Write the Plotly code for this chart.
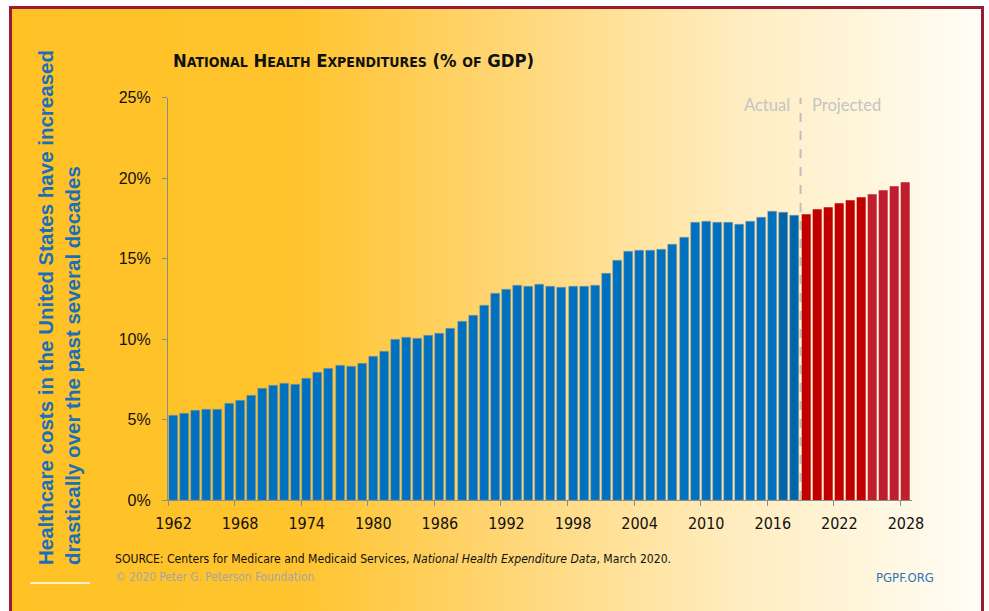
import base64
import plotly.graph_objects as go

# ---------------- data ----------------
years = list(range(1962, 2029))
nhe_pct_gdp = [
    5.24, 5.40, 5.59, 5.63, 5.65, 5.98, 6.21, 6.48, 6.94, 7.10,
    7.25, 7.20, 7.54, 7.91, 8.16, 8.34, 8.30, 8.45, 8.92, 9.21,
    10.00, 10.12, 10.02, 10.20, 10.37, 10.64, 11.08, 11.45, 12.09, 12.80,
    13.08, 13.35, 13.25, 13.37, 13.29, 13.23, 13.25, 13.25, 13.33, 14.06,
    14.89, 15.42, 15.51, 15.51, 15.59, 15.86, 16.29, 17.24, 17.29, 17.24,
    17.22, 17.10, 17.27, 17.53, 17.89, 17.83, 17.70,
    17.76, 18.03, 18.16, 18.40, 18.60, 18.78, 18.97, 19.20, 19.46, 19.69,
]
last_actual_year = 2018
tick_years = [1962, 1968, 1974, 1980, 1986, 1992, 1998, 2004, 2010, 2016, 2022, 2028]
y_ticks = [0, 5, 10, 15, 20, 25]
y_tick_labels = [f"{v}%" for v in y_ticks]

title_text = ("<b>N<span style='font-size:14px'>ATIONAL</span> "
              "H<span style='font-size:14px'>EALTH</span> "
              "E<span style='font-size:14px'>XPENDITURES</span> "
              "(% <span style='font-size:14px'>OF</span> GDP)</b>")
side_text = ("<b>Healthcare costs in the United States have increased<br>"
             "drastically over the past several decades</b>")
source_text = ("SOURCE: Centers for Medicare and Medicaid Services, "
               "<i>National Health Expenditure Data</i>, March 2020.")
copyright_text = "© 2020 Peter G. Peterson Foundation"
site_text = "PGPF.ORG"

# ---------------- styling ----------------
W, H = 989, 611
BLUE = "#0070C0"
BLUE_DARK = "#0066AB"
RED = "#C00000"
RED2 = "#BE1E2D"
NARROW = "DejaVu Sans Condensed, Liberation Sans Narrow, sans-serif"


def bar_color(yr):
    if yr <= last_actual_year:
        return BLUE_DARK if yr >= 2017 else BLUE
    return RED if yr <= 2024 else RED2


colors = [bar_color(y) for y in years]
line_cols = ["rgba(170,165,140,0.85)" if y <= last_actual_year else "rgba(0,0,0,0)" for y in years]


def px(x):
    return x / W


def py(y):
    return 1 - y / H


fig = go.Figure()
fig.add_trace(go.Bar(
    x=years, y=nhe_pct_gdp, width=0.81,
    marker=dict(color=colors, line=dict(color=line_cols, width=0.6)),
    hoverinfo="skip", showlegend=False,
))
# invisible trace to activate secondary x axis (boundary ticks)
fig.add_trace(go.Scatter(x=[years[0]], y=[0], xaxis="x2", mode="markers",
                         marker=dict(opacity=0), hoverinfo="skip", showlegend=False))

x_range = [years[0] - 0.5, years[-1] + 0.5]
x_dom = [px(168), px(911.5)]
y_dom = [py(500), py(97.5)]

fig.update_layout(
    width=W, height=H,
    margin=dict(l=0, r=0, t=0, b=0, pad=0, autoexpand=False),
    paper_bgcolor="white", plot_bgcolor="rgba(0,0,0,0)",
    bargap=0,
    xaxis=dict(domain=x_dom, range=x_range, tickvals=tick_years,
               ticks="outside", ticklen=5, tickcolor="rgba(0,0,0,0)",
               showline=True, linecolor="#8C8C8C", linewidth=1.2,
               showgrid=False, zeroline=False, automargin=False,
               tickfont=dict(family=NARROW, size=16, color="#111111"),
               ticklabelstandoff=4),
    xaxis2=dict(overlaying="x", anchor="y", side="bottom", range=x_range,
                tickvals=[t - 0.5 for t in tick_years], ticks="outside",
                ticklen=5, tickcolor="#8C8C8C", tickwidth=1.2, automargin=False,
                showticklabels=False, showgrid=False, zeroline=False, showline=False),
    yaxis=dict(domain=y_dom, range=[0, 25], tickvals=y_ticks, ticktext=y_tick_labels,
               ticks="outside", ticklen=5, tickcolor="#8C8C8C", tickwidth=1.2,
               showline=True, linecolor="#8C8C8C", linewidth=1.2,
               showgrid=False, zeroline=False, automargin=False,
               tickfont=dict(family="Liberation Sans, Arial, sans-serif", size=16, color="#111111"),
               ticklabelstandoff=8),
)

# background gradient
svg = ('<svg xmlns="http://www.w3.org/2000/svg" width="200" height="100" preserveAspectRatio="none">'
       '<defs><linearGradient id="g" x1="0" x2="1" y1="0" y2="0">'
       '<stop offset="0" stop-color="#FFC124"/>'
       '<stop offset="0.30" stop-color="#FFC42F"/>'
       '<stop offset="0.50" stop-color="#FFD572"/>'
       '<stop offset="0.75" stop-color="#FFEDC0"/>'
       '<stop offset="1" stop-color="#FFFDF6"/>'
       '</linearGradient></defs><rect width="200" height="100" fill="url(#g)"/></svg>')
src = "data:image/svg+xml;base64," + base64.b64encode(svg.encode()).decode()
fig.add_layout_image(dict(source=src, xref="paper", yref="paper",
                          x=px(12), y=py(9), sizex=px(981) - px(12), sizey=py(9),
                          xanchor="left", yanchor="top", sizing="stretch", layer="below"))

# frame (open at the bottom edge, like the reference)
frame = dict(color="#9B1C31", width=3)
fig.add_shape(type="line", xref="paper", yref="paper",
              x0=px(10.5), x1=px(10.5), y0=0, y1=py(7.5), line=frame)
fig.add_shape(type="line", xref="paper", yref="paper",
              x0=px(982.5), x1=px(982.5), y0=0, y1=py(7.5), line=frame)
fig.add_shape(type="line", xref="paper", yref="paper",
              x0=px(9), x1=px(984), y0=py(7.5), y1=py(7.5), line=frame)
# short white rule under side text
fig.add_shape(type="line", xref="paper", yref="paper",
              x0=px(30), x1=px(90), y0=py(583), y1=py(583),
              line=dict(color="white", width=1.5))

# actual / projected divider
div_x = last_actual_year + 0.5
fig.add_shape(type="line", xref="x", yref="y", x0=div_x, x1=div_x, y0=0, y1=25,
              line=dict(color="#BDBDBD", width=2, dash="dash"), layer="below")
fig.add_annotation(x=div_x, y=25, xref="x", yref="y", text="Actual", showarrow=False,
                   xanchor="right", yanchor="middle", xshift=-9, yshift=-8,
                   font=dict(family="Lato, sans-serif", size=16.5, color="#C4C4C4"))
fig.add_annotation(x=div_x, y=25, xref="x", yref="y", text="Projected", showarrow=False,
                   xanchor="left", yanchor="middle", xshift=9, yshift=-8,
                   font=dict(family="Lato, sans-serif", size=16.5, color="#C4C4C4"))

# title
fig.add_annotation(x=px(171), y=py(61), xref="paper", yref="paper", text=title_text,
                   showarrow=False, xanchor="left", yanchor="middle",
                   font=dict(family=NARROW, size=18.3, color="#111111"))
# side text
fig.add_annotation(x=px(59), y=py(308), xref="paper", yref="paper", text=side_text,
                   showarrow=False, textangle=-90, align="left",
                   xanchor="center", yanchor="middle",
                   font=dict(family="Liberation Sans, Arial, sans-serif", size=20.5, color="#1A6FB8"))
# footer
fig.add_annotation(x=px(113), y=py(559), xref="paper", yref="paper", text=source_text,
                   showarrow=False, xanchor="left", yanchor="middle",
                   font=dict(family=NARROW, size=12.1, color="#111111"))
fig.add_annotation(x=px(113), y=py(577), xref="paper", yref="paper", text=copyright_text,
                   showarrow=False, xanchor="left", yanchor="middle",
                   font=dict(family=NARROW, size=11.8, color="#A6A6A6"))
fig.add_annotation(x=px(936), y=py(577), xref="paper", yref="paper", text=site_text,
                   showarrow=False, xanchor="right", yanchor="middle",
                   font=dict(family=NARROW, size=13, color="#2E75B6"))

fig.write_html("out.html")
